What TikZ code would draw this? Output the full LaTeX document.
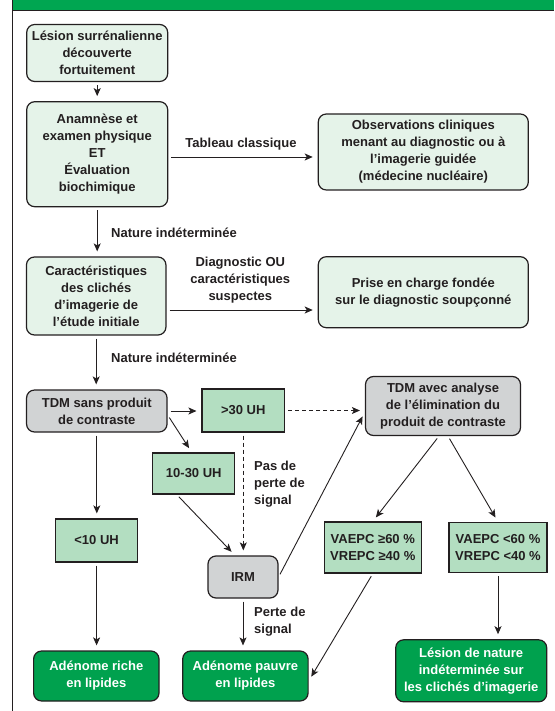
\documentclass[tikz,border=0pt]{standalone}
\usepackage{fontspec}
\setmainfont{Liberation Sans}
\usetikzlibrary{arrows.meta}
\definecolor{bargreen}{HTML}{00A651}
\definecolor{palegreen}{HTML}{E5F3E9}
\definecolor{midgreen}{HTML}{B3DEC1}
\definecolor{darkgreen}{HTML}{00A14E}
\definecolor{boxgray}{HTML}{D1D3D4}
\definecolor{ink}{HTML}{231F20}
\tikzset{
  every node/.style={font=\fontsize{13}{17}\selectfont\bfseries, text=ink, align=center},
  box/.style={draw=ink, line width=1.2pt, rounded corners=8pt, inner sep=0pt},
  palebox/.style={box, fill=palegreen},
  greybox/.style={box, fill=boxgray},
  valuebox/.style={box, rounded corners=0pt, fill=midgreen},
  outcomebox/.style={box, fill=darkgreen, text=white},
  note/.style={inner sep=0pt},
  flow/.style={draw=ink, line width=0.9pt, -{Stealth[length=8pt,width=7pt,inset=2pt]}, shorten <=3pt, shorten >=5pt},
  dashflow/.style={dash pattern=on 4pt off 3pt},
}
\begin{document}
\begin{tikzpicture}[x=1pt, y=-1pt]
      \useasboundingbox (0,0) rectangle (554,711);
      \fill[bargreen] (12,0) rectangle (554,10);
      \draw[ink, line width=1.3pt] (12,10.5) -- (554,10.5);
      \draw[ink, line width=1.3pt] (12.6,0) -- (12.6,711);
      \draw
        (97.2,53) node[palebox, minimum width=141pt, minimum height=57pt] (lesion) {Lésion surrénalienne\\découverte\\fortuitement}
        (97.2,154.2) node[palebox, minimum width=141pt, minimum height=105pt] (anam) {Anamnèse et\\examen physique\\ET\\Évaluation\\biochimique}
        (423.3,152) node[palebox, minimum width=210pt, minimum height=76pt] (obs) {Observations cliniques\\menant au diagnostic ou à\\l’imagerie guidée\\(médecine nucléaire)}
        (96.2,296) node[palebox, minimum width=139.5pt, minimum height=78pt] (carac) {Caractéristiques\\des clichés\\d’imagerie de\\l’étude initiale}
        (423.3,292.2) node[palebox, minimum width=210pt, minimum height=71pt] (prise) {Prise en charge fondée\\sur le diagnostic soupçonné}
        (96.8,411) node[greybox, minimum width=140.5pt, minimum height=42pt] (tdmsans) {TDM sans produit\\de contraste}
        (243.3,410.5) node[valuebox, minimum width=82.5pt, minimum height=43pt] (sup30) {>30 UH}
        (443,406) node[greybox, minimum width=155pt, minimum height=59pt] (tdmavec) {TDM avec analyse\\de l’élimination du\\produit de contraste}
        (193.8,473.5) node[valuebox, minimum width=82pt, minimum height=41pt] (mid) {10-30 UH}
        (96.6,540.5) node[valuebox, minimum width=82pt, minimum height=43pt] (inf10) {<10 UH}
        (243,577) node[greybox, minimum width=70pt, minimum height=42pt] (irm) {IRM}
        (372.8,547.5) node[valuebox, minimum width=97pt, minimum height=51pt] (vaepcA) {VAEPC ≥60 \%\\VREPC ≥40 \%}
        (498,547.5) node[valuebox, minimum width=98pt, minimum height=50pt] (vaepcB) {VAEPC <60 \%\\VREPC <40 \%}
        (96.3,676) node[outcomebox, minimum width=125.4pt, minimum height=50pt] (riche) {Adénome riche\\en lipides}
        (245.4,676) node[outcomebox, minimum width=125.4pt, minimum height=50pt] (pauvre) {Adénome pauvre\\en lipides}
        (471.2,670.8) node[outcomebox, minimum width=151pt, minimum height=62pt] (indet) {Lésion de nature\\indéterminée sur\\les clichés d’imagerie};
      \draw
        (241,144) node[note] (tab) {Tableau classique}
        (240.3,280) node[note] (diag) {Diagnostic OU\\caractéristiques\\suspectes}
        (111,233) node[note, anchor=west] (ni1) {Nature indéterminée}
        (111,358) node[note, anchor=west] (ni2) {Nature indéterminée}
        (254,484) node[note, anchor=west, align=left] (pas) {Pas de\\perte de\\signal}
        (254,622) node[note, anchor=west, align=left] (perte) {Perte de\\signal};
      \begin{scope}[flow]
        \draw (lesion) -- (anam);
        \draw (anam.east |- 0,157) -- (obs.west |- 0,157);
        \draw (anam.south) -- (anam.south |- carac.north);
        \draw (carac.east |- 0,310) -- (prise.west |- 0,310);
        \draw (carac.south) -- (carac.south |- tdmsans.north);
        \draw (tdmsans.east) -- (sup30.west |- tdmsans.east);
        \draw ([yshift=-4pt]tdmsans.east) -- ([xshift=-2pt]mid.north);
        \draw (tdmsans.south) -- (tdmsans.south |- inf10.north);
        \draw[dashflow] (sup30.east) -- (tdmavec.west |- sup30.east);
        \draw[dashflow] (sup30.south) -- (sup30.south |- irm.north);
        \draw ([xshift=-17pt]mid.south) -- ([xshift=-8pt]irm.north);
        \draw (irm.east) -- ([yshift=-6pt]tdmavec.west);
        \draw ([xshift=-4pt]tdmavec.south) -- (vaepcA.north);
        \draw ([xshift=5pt]tdmavec.south) -- (vaepcB.north);
        \draw (inf10.south) -- (inf10.south |- riche.north);
        \draw (irm.south) -- (irm.south |- pauvre.north);
        \draw (vaepcA.south) -- ([yshift=-5pt]pauvre.east);
        \draw (vaepcB.south) -- (vaepcB.south |- indet.north);
      \end{scope}
    \end{tikzpicture}
\end{document}
